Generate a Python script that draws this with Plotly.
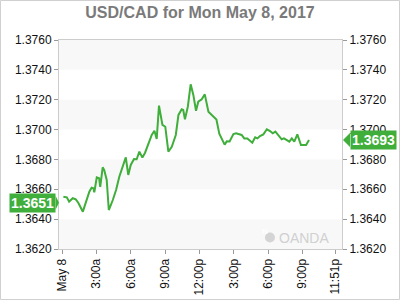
import plotly.graph_objects as go

# ---- data ----
times = ["00:07","00:25","00:37","00:56","01:12","01:25","01:49","02:10","02:23","02:35",
         "02:44","02:49","03:02","03:14","03:20","03:33","03:41","03:54","04:05","04:26",
         "04:43","05:00","05:21","05:34","05:47","06:00","06:17","06:31","06:45","07:01",
         "07:15","07:32","07:50","08:04","08:16","08:28","08:46","09:01","09:17","09:35",
         "09:56","10:10","10:27","10:35","10:44","10:59","11:14","11:28","11:42","11:54",
         "12:12","12:28","12:47","13:29","13:44","14:12","14:23","14:38","14:58","15:12",
         "15:41","15:55","16:11","16:37","16:52","17:04","17:17","17:35","17:53","18:10",
         "18:24","18:38","19:11","19:23","19:51","20:04","20:17","20:33","20:52","21:19",
         "21:34"]
values = [1.36550,1.36546,1.36517,1.36540,1.36533,1.36510,1.36450,1.36528,1.36584,1.36611,
          1.36607,1.36580,1.36680,1.36674,1.36617,1.36747,1.36729,1.36662,1.36461,1.36528,
          1.36595,1.36684,1.36763,1.36814,1.36696,1.36763,1.36803,1.36801,1.36852,1.36812,
          1.36845,1.36897,1.36964,1.36992,1.36937,1.37160,1.37031,1.37019,1.36852,1.36885,
          1.36964,1.37098,1.37136,1.37131,1.37069,1.37153,1.37303,1.37232,1.37126,1.37187,
          1.37203,1.37236,1.37120,1.37067,1.36972,1.36899,1.36921,1.36920,1.36970,1.36975,
          1.36964,1.36941,1.36941,1.36912,1.36948,1.36941,1.36957,1.36968,1.37002,1.36990,
          1.36975,1.36986,1.36935,1.36941,1.36919,1.36941,1.36919,1.36968,1.36897,1.36897,
          1.36930]
day = "2017-05-08"
x_dates = [f"{day} {t}" for t in times]

tick_dates = ["2017-05-08 00:00","2017-05-08 03:00","2017-05-08 06:00","2017-05-08 09:00",
              "2017-05-08 12:00","2017-05-08 15:00","2017-05-08 18:00","2017-05-08 21:00",
              "2017-05-08 23:51"]
tick_text = ["May 8","3:00a","6:00a","9:00a","12:00p","3:00p","6:00p","9:00p","11:51p"]
y_ticks = [1.362,1.364,1.366,1.368,1.370,1.372,1.374,1.376]
y_tick_text = [f"{v:.4f}" for v in y_ticks]
open_value = 1.3651
last_value = 1.3693
title = "USD/CAD for Mon May 8, 2017"

GREEN = "#3fae3a"
FONT = "Liberation Sans, Arial, sans-serif"

fig = go.Figure()
fig.add_trace(go.Scatter(x=x_dates, y=values, mode="lines",
                         line=dict(color=GREEN, width=2), hoverinfo="skip", showlegend=False))
fig.add_trace(go.Scatter(x=x_dates, y=values, mode="none", yaxis="y2",
                         hoverinfo="skip", showlegend=False))

shapes = []
# alternating bands
for lo in [1.362, 1.366, 1.370, 1.374]:
    shapes.append(dict(type="rect", xref="paper", yref="y", x0=0, x1=1, y0=lo, y1=lo + 0.002,
                       fillcolor="#f8f8f8", line=dict(width=0), layer="below"))
# outer frame
shapes.append(dict(type="rect", xref="paper", yref="paper", x0=-0.2067, x1=1.2032,
                   y0=-0.2416, y1=1.189, line=dict(color="#d0d0d0", width=1),
                   fillcolor="rgba(0,0,0,0)"))
# label pointers
h = 7 / 14929
shapes.append(dict(type="path", xref="paper", yref="y",
                   path=f"M -0.0120 {open_value - h} L 0.0 {open_value} L -0.0120 {open_value + h} Z",
                   fillcolor=GREEN, line=dict(width=0)))
shapes.append(dict(type="path", xref="paper", yref="y",
                   path=f"M 1.0283 {last_value - h} L 1.0035 {last_value} L 1.0283 {last_value + h} Z",
                   fillcolor=GREEN, line=dict(width=0)))
# watermark logo circle
shapes.append(dict(type="circle", xref="paper", yref="paper", x0=0.7278, x1=0.7632,
                   y0=0.031, y1=0.079, fillcolor="#d4d4d4", line=dict(width=0)))

annotations = [
    dict(xref="paper", yref="y", x=-0.0120, y=open_value, xanchor="right", yanchor="middle",
         text="<b>1.3651</b>", showarrow=False, bgcolor=GREEN, borderpad=1,
         font=dict(family=FONT, size=14, color="white")),
    dict(xref="paper", yref="y", x=1.0283, y=last_value, xanchor="left", yanchor="middle",
         text="<b>1.3693</b>", showarrow=False, bgcolor=GREEN, borderpad=1,
         font=dict(family=FONT, size=14, color="white")),
    dict(xref="paper", yref="paper", x=0.7455, y=0.055, text="<b>N</b>", showarrow=False,
         font=dict(family=FONT, size=8, color="white")),
    dict(xref="paper", yref="paper", x=0.772, y=0.055, xanchor="left", yanchor="middle",
         text="OANDA", showarrow=False, font=dict(family=FONT, size=14, color="#d0d0d0")),
]

axis_font = dict(family=FONT, size=12, color="#111111")
fig.update_layout(
    width=400, height=300,
    margin=dict(l=59, r=58, t=40, b=51),
    paper_bgcolor="white", plot_bgcolor="white",
    title=dict(text=f"<b>{title}</b>", x=0.5, xanchor="center", y=0.958, yanchor="middle",
               font=dict(family=FONT, size=16, color="#7a7a7a")),
    xaxis=dict(type="date", range=["2017-05-07 23:44", "2017-05-09 00:27"],
               tickvals=tick_dates, ticktext=tick_text, tickangle=-90,
               ticks="outside", ticklen=4, tickcolor="#999999", automargin=False,
               showgrid=False, zeroline=False, showline=True, linecolor="#cccccc",
               mirror=True, tickfont=axis_font),
    yaxis=dict(range=[1.362, 1.376], tickvals=y_ticks, ticktext=y_tick_text,
               ticks="outside", ticklen=4, tickcolor="#999999", automargin=False,
               showgrid=False, zeroline=False, showline=True, linecolor="#cccccc",
               mirror=True, tickfont=axis_font),
    yaxis2=dict(range=[1.362, 1.376], tickvals=y_ticks, ticktext=y_tick_text,
                overlaying="y", side="right", ticks="outside", ticklen=4, automargin=False,
                tickcolor="#999999", showgrid=False, zeroline=False,
                showline=False, tickfont=axis_font),
    shapes=shapes, annotations=annotations, showlegend=False,
)

fig.write_html("out.html")
